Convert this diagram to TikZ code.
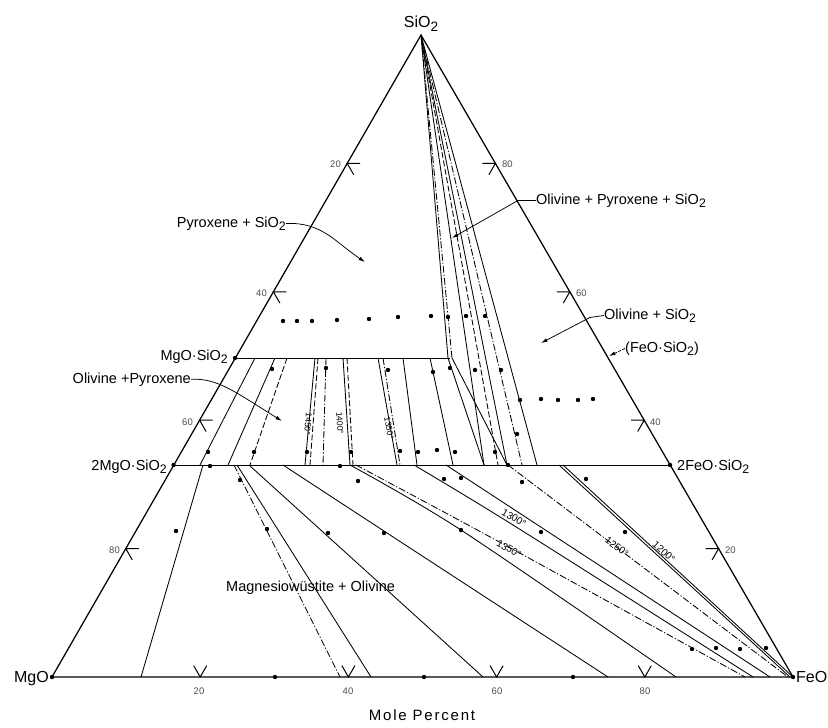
\documentclass[tikz,border=0pt]{standalone}
\usepackage{fontspec}
\setmainfont{Liberation Sans}
\newfontfamily\spacedfont[LetterSpace=12]{Liberation Sans}
\usepackage{graphicx}
\usetikzlibrary{arrows.meta}
\newcommand{\lowsub}[1]{\raisebox{-0.45ex}{\scalebox{0.85}{#1}}}
\begin{document}
\begin{tikzpicture}[x=1bp,y=-1bp,
  side/.style={line width=1.25bp},
  tl/.style={line width=0.85bp},
  tldash/.style={tl, dash pattern=on 6bp off 2.5bp},
  tldd/.style={tl, dash pattern=on 7bp off 2bp on 1.2bp off 2bp},
  tickmark/.style={line width=1bp},
  lab/.style={font=\fontsize{14.5bp}{16bp}\selectfont, inner sep=0pt},
  vlab/.style={font=\fontsize{16bp}{18bp}\selectfont, inner sep=0pt},
  nlab/.style={font=\fontsize{9.5bp}{11bp}\selectfont, inner sep=0pt, text=black!70},
  tlab/.style={font=\fontsize{8.5bp}{10bp}\selectfont, inner sep=0pt},
  tlabb/.style={font=\fontsize{10bp}{11bp}\selectfont, inner sep=0pt},
  lead/.style={line width=0.75bp, -{Latex[length=6.5bp,width=3.8bp]}}
]
\useasboundingbox (0,0) rectangle (828,728);

% corner and compound points
\coordinate (Si) at (421,35);
\coordinate (Mg) at (52,677);
\coordinate (Fe) at (793,677);
\coordinate (En) at (235,358);
\coordinate (Fo) at (173.5,465);
\coordinate (Fa) at (670,465);
\coordinate (Fs) at (607.7,358);
\coordinate (Pc) at (450,358);

% triangle and composition joins
\draw[side] (Mg) -- (Fe) -- (Si) -- cycle;
\draw[tl] (En) -- (Pc);
\draw[tl] (Fo) -- (Fa);

% fan from SiO2
\draw[tl] (Si) -- (448,358) -- (484,465);
\draw[tldd] (Si) -- (452,358);
\draw[tl] (452,358) -- (507,465);
\draw[tl] (Si) -- (484,465);
\draw[tldash] (Si) -- (498,465);
\draw[tl] (Si) -- (507,465);
\draw[tldd] (Si) -- (522,465);
\draw[tl] (Si) -- (537,465);

% olivine + pyroxene tie lines
\draw[tl] (255,358) -- (200,465);
\draw[tl] (275,358) -- (228,465);
\draw[tldash] (287,358) -- (250,465);
\draw[tl] (315,358) -- (305,465);
\draw[tldash] (318,358) -- (310,465);
\draw[tldd] (326,358) -- (323,465);
\draw[tl] (343,358) -- (350,465);
\draw[tldash] (347,358) -- (353,465);
\draw[tl] (378,358) -- (397,465);
\draw[tldd] (383,358) -- (400,465);
\draw[tl] (403,358) -- (417,465);
\draw[tl] (430,358) -- (453,465);

% magnesiowustite + olivine tie lines
\draw[tl] (203,465) -- (141,677);
\draw[tldd] (234,465) -- (340,677);
\draw[tl] (237,465) -- (371,677);
\draw[tl] (249,465) -- (483,677);
\draw[tl] plot[smooth] coordinates {(283,465) (387,533) (608,677)};
\draw[tl] plot[smooth] coordinates {(350,465) (461,530) (676,677)};
\draw[tldd] plot[smooth] coordinates {(356,465) (505,545) (745,677)};
\draw[tl] plot[smooth] coordinates {(414,465) (513,525) (753,677)};
\draw[tl] (446,465) -- (770,677);
\draw[tldd] (508,465) -- (788,677);
\draw[tl] (559,465) -- (790,677);
\draw[tl] (563,465) -- (793,677);

% ticks
\foreach \x in {200.2,348.4,496.6,644.8}
  \draw[tickmark] (\x,677) ++(-6.5,-11.3) -- (\x,677) -- ++(6.5,-11.3);
\foreach \x/\y in {347.2/163.4,273.4/291.8,199.6/420.2,125.8/548.6}
  \draw[tickmark] (\x,\y) ++(13,0) -- (\x,\y) -- ++(6.5,11.3);
\foreach \x/\y in {495.4/163.4,569.8/291.8,644.2/420.2,718.6/548.6}
  \draw[tickmark] (\x,\y) ++(-13,0) -- (\x,\y) -- ++(-6.5,11.3);

% tick numbers
\node[nlab] (b20) at (199,691) {20};
\node[nlab] (b40) at (348,691) {40};
\node[nlab] (b60) at (497,691) {60};
\node[nlab] (b80) at (645,691) {80};
\node[nlab, anchor=east] (l20) at (341,164) {20};
\node[nlab, anchor=east] (l40) at (267,293) {40};
\node[nlab, anchor=east] (l60) at (193,422) {60};
\node[nlab, anchor=east] (l80) at (120,550) {80};
\node[nlab, anchor=west] (r80) at (502,164) {80};
\node[nlab, anchor=west] (r60) at (576,293) {60};
\node[nlab, anchor=west] (r40) at (650,422) {40};
\node[nlab, anchor=west] (r20) at (725,550) {20};

% data points
\foreach \p in {(52,677),(793,677),(235,358),(173.5,465),(670,465),
  (275,677),(424,677),(573,677),
  (283,321),(297,321),(312,321),(337,320),(369,319),(398,317),(431,316),(448,317),(466,316),(485,316),
  (520,400),(541,399),(558,400),(578,400),(593,399),(517,434),
  (272,369),(326,368),(388,370),(433,372),(450,368),(475,370),(501,370),
  (208,452),(254,452),(307,452),(351,452),(400,451),(418,452),(437,450),(455,452),(495,452),
  (210,466),(340,466),(508,465),
  (240,480),(358,481),(444,479),(461,478),(522,482),(586,479),
  (176,531),(267,529),(328,533),(384,533),(461,530),(541,532),(625,532),
  (692,649),(716,648),(740,649),(766,648)}
  \fill \p circle (2.2bp);

% temperature labels
\node[tlab, rotate=-95] (t1450) at (308,424) {1450°};
\node[tlab, rotate=-87] (t1400) at (340,423) {1400°};
\node[tlab, rotate=-80] (t1350a) at (389,428) {1350°};
\node[tlabb, rotate=-31] (t1300) at (514,518) {1300°};
\node[tlabb, rotate=-30] (t1350b) at (509,549) {1350°};
\node[tlabb, rotate=-37] (t1250) at (617,547) {1250°};
\node[tlabb, rotate=-42] (t1200) at (664,552) {1200°};

% vertex and compound labels
\node[vlab, anchor=base] (lSi) at (421,28) {SiO\lowsub{2}};
\node[vlab, anchor=base east] (lMg) at (49,682) {MgO};
\node[vlab, anchor=base west] (lFe) at (796,682) {FeO};
\node[lab, anchor=base east] (lEn) at (228,360) {MgO·SiO\lowsub{2}};
\node[lab, anchor=base east] (lFo) at (167,470) {2MgO·SiO\lowsub{2}};
\node[lab, anchor=base west] (lFa) at (677,470) {2FeO·SiO\lowsub{2}};
\node[lab, anchor=base west] (lFs) at (625,352) {(FeO·SiO\lowsub{2})};

% field labels
\node[lab, anchor=base east] (pxs) at (286,227) {Pyroxene + SiO\lowsub{2}};
\node[lab, anchor=base west] (ops) at (536,204) {Olivine + Pyroxene + SiO\lowsub{2}};
\node[lab, anchor=base west] (os) at (604,319) {Olivine + SiO\lowsub{2}};
\node[lab, anchor=base east] (op) at (191,383) {Olivine +Pyroxene};
\node[lab, anchor=base west] (mo) at (226,591) {Magnesiowüstite + Olivine};
\node[font=\fontsize{15bp}{17bp}\spacedfont, inner sep=0pt] (mp) at (422,715) {Mole Percent};

% leaders
\coordinate (pxsT) at (365,262);
\coordinate (opsT) at (452,238);
\coordinate (osT) at (541,343);
\coordinate (opT) at (282,421);
\coordinate (fsT) at (609,356);
\draw[lead] (pxs.east) .. controls (322,222) and (335,242) .. (pxsT);
\draw[lead] (ops.west) -- ++(-18,0) -- (opsT);
\draw[lead] (os.west) -- ++(-14,2) -- (osT);
\draw[lead] (op.east) .. controls (218,378) and (235,392) .. (opT);
\draw[lead, dash pattern=on 3bp off 1.5bp] (lFs.west) -- (fsT);
\end{tikzpicture}
\end{document}
